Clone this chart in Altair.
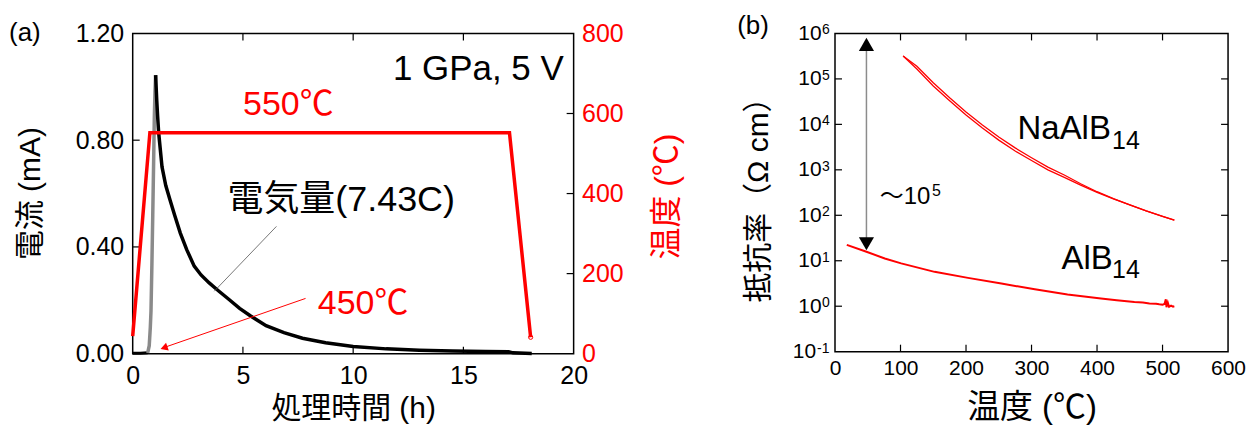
import altair as alt
import pandas as pd

FONT = "Liberation Sans, Noto Sans CJK JP, sans-serif"
RED = "#ff0000"

# ---------------- Panel (a) data ----------------
base_t = [0.0, 0.35, 0.68]
base_i = [0.002, 0.002, 0.003]
rise_t = [0.68, 0.75, 0.80, 0.83, 0.87, 0.91, 0.95, 0.98, 1.01, 1.04]
rise_i = [0.003, 0.03, 0.10, 0.16, 0.33, 0.52, 0.72, 0.88, 0.98, 1.044]
decay_t = [1.04, 1.09, 1.13, 1.18, 1.33, 1.50, 1.69, 1.90, 2.16, 2.45, 2.79, 3.10,
           3.47, 3.90, 4.37, 4.85, 5.35, 6.05, 6.86, 7.70, 8.75, 10.0, 11.5, 13.0,
           14.5, 16.0, 17.05, 17.25, 18.1]
decay_i = [1.044, 0.95, 0.89, 0.826, 0.70, 0.63, 0.577, 0.52, 0.452, 0.39, 0.328, 0.295,
           0.265, 0.235, 0.203, 0.17, 0.141, 0.105, 0.0785, 0.058, 0.041, 0.027, 0.018, 0.013,
           0.010, 0.008, 0.0075, 0.003, 0.001]
temp_t = [0.0, 0.78, 17.09, 18.05]
temp_v = [44, 552, 552, 41]

a_xlabels = [0, 5, 10, 15, 20]
a_ylabels = [0.0, 0.4, 0.8, 1.2]
a_tlabels = [0, 200, 400, 600, 800]
a_xticks = [5, 10, 15]
a_yticks = [0.4, 0.8]
a_tticks = [200, 400, 600]

# ---------------- Panel (b) data ----------------
na_T = [104, 125, 150, 175, 200, 225, 250, 275, 300, 325, 350, 375, 400, 425, 450, 475, 500, 518]
na_R1 = [3.2e5, 1.65e5, 7.0e4, 3.3e4, 1.6e4, 8.3e3, 4.5e3, 2.6e3, 1.6e3, 1.0e3, 680, 460,
         320, 230, 170, 125, 95, 78]
na_R2 = [3.2e5, 1.9e5, 8.2e4, 3.85e4, 1.87e4, 9.7e3, 5.25e3, 3.04e3, 1.85e3, 1.15e3, 770, 495,
         330, 232, 170, 125, 95, 78]
al_T = [18, 48, 76, 101, 152, 203, 254, 305, 355, 406, 430, 457, 470, 480, 490, 495, 500,
        503, 505, 506, 508, 510, 513, 516, 518]
al_R = [22.3, 15.8, 11.2, 8.75, 5.7, 4.2, 3.15, 2.36, 1.8, 1.47, 1.36, 1.24, 1.2, 1.15, 1.13,
        1.1, 1.08, 1.12, 1.42, 0.95, 1.2, 0.97, 1.03, 0.98, 1.0]

b_xlabels = [0, 100, 200, 300, 400, 500, 600]
b_ylabels = [1, 10, 100, 1e3, 1e4, 1e5, 1e6]
b_sup_vals = [1, 10, 100, 1e3, 1e4, 1e5, 1e6]
b_sup_text = ["0", "1", "2", "3", "4", "5", "6"]
b_low_val = [0.1]
b_low_base = ["10"]
b_low_sup = ["-1"]
b_xticks = [100, 200, 300, 400, 500]
b_yticks = [1, 10, 100, 1e3, 1e4, 1e5]

WA, HA = 442, 321
WB, HB = 394, 319
TL = 7  # inward tick length

XA = alt.Scale(domain=[0, 20], nice=False)
YA = alt.Scale(domain=[0, 1.2], nice=False)
TA = alt.Scale(domain=[0, 800], nice=False)
XB = alt.Scale(domain=[0, 600], nice=False)
YB = alt.Scale(type="log", domain=[0.1, 1e6], nice=False)


def df(**cols):
    return pd.DataFrame(cols)


# ---------------- axes ----------------
xaxis_a = alt.Axis(values=a_xlabels, ticks=False, domain=False, grid=False, labelFontSize=25,
                   labelPadding=10, labelFlush=False, labelOverlap=False, labelFont=FONT,
                   labelColor="black",
                   title="処理時間 (h)", titleFont=FONT, titleFontSize=30, titleFontWeight="normal",
                   titleColor="black", titleX=WA / 2, titleY=55,
                   titleAlign="center", titleBaseline="middle")
yaxis_a = alt.Axis(values=a_ylabels, format=".2f", ticks=False, domain=False, grid=False,
                   labelFontSize=25, labelPadding=9, labelFlush=False, labelOverlap=False,
                   labelFont=FONT, labelColor="black", title=None)
taxis_a = alt.Axis(values=a_tlabels, orient="right", ticks=False, domain=False, grid=False,
                   labelFontSize=25, labelPadding=8, labelFlush=False, labelOverlap=False,
                   labelFont=FONT, labelColor=RED, title=None)

xaxis_b = alt.Axis(values=b_xlabels, ticks=False, domain=False, grid=False, labelFontSize=21,
                   labelPadding=6, labelFlush=False, labelOverlap=False, labelFont=FONT,
                   labelColor="black",
                   title="温度 (℃)", titleFont=FONT, titleFontSize=33, titleFontWeight="normal",
                   titleColor="black", titleX=WB / 2, titleY=56,
                   titleAlign="center", titleBaseline="middle")
yaxis_b = alt.Axis(values=b_ylabels, labelExpr="'10'",
                   ticks=False, domain=False, grid=False,
                   labelFontSize=21, labelPadding=14, labelFlush=False, labelOverlap=False,
                   labelFont=FONT, labelColor="black", title=None)


def xa(field="t"):
    return alt.X(f"{field}:Q", scale=XA, axis=xaxis_a)


def ya(field="i"):
    return alt.Y(f"{field}:Q", scale=YA, axis=yaxis_a)


def ta(field="v"):
    return alt.Y(f"{field}:Q", scale=TA, axis=taxis_a)


def xb(field="T"):
    return alt.X(f"{field}:Q", scale=XB, axis=xaxis_b)


def yb(field="R"):
    return alt.Y(f"{field}:Q", scale=YB, axis=yaxis_b)


def ptext(label, x, y, size, color="black", angle=0, align="center", baseline="middle"):
    """Text placed in pixel space of a panel (panel tags, rotated titles)."""
    return alt.Chart(df(label=[label])).mark_text(
        font=FONT, fontSize=size, color=color, align=align, baseline=baseline,
        angle=angle).encode(x=alt.value(x), y=alt.value(y), text="label:N")


# ---------------- Panel (a) layers ----------------
cur_base = alt.Chart(df(t=base_t, i=base_i)).mark_line(color="black", strokeWidth=3).encode(
    x=xa(), y=ya())
cur_rise = alt.Chart(df(t=rise_t, i=rise_i)).mark_line(color="#8a8a8a", strokeWidth=3.5).encode(
    x=xa(), y=ya())
cur_decay = alt.Chart(df(t=decay_t, i=decay_i)).mark_line(color="black", strokeWidth=3.5).encode(
    x=xa(), y=ya())

tick_bot_a = alt.Chart(df(t=a_xticks)).mark_rule(color="black", strokeWidth=1.2).encode(
    x=xa(), y=alt.value(HA), y2=alt.value(HA - TL))
tick_top_a = alt.Chart(df(t=a_xticks)).mark_rule(color="black", strokeWidth=1.2).encode(
    x=xa(), y=alt.value(0), y2=alt.value(TL))
tick_left_a = alt.Chart(df(i=a_yticks)).mark_rule(color="black", strokeWidth=1.2).encode(
    y=ya(), x=alt.value(0), x2=alt.value(TL))

leader = alt.Chart(df(t=[6.52], i=[0.477], t2=[3.70], i2=[0.234])).mark_rule(
    color="#555555", strokeWidth=0.8).encode(x=xa(), y=ya(), x2="t2:Q", y2="i2:Q")
arrow_line = alt.Chart(df(t=[7.84], i=[0.207], t2=[1.35], i2=[0.021])).mark_rule(
    color=RED, strokeWidth=1).encode(x=xa(), y=ya(), x2="t2:Q", y2="i2:Q")
arrow_head = alt.Chart(df(t=[1.42], i=[0.022])).mark_point(
    shape="triangle-up", filled=True, color=RED, size=70, angle=251, opacity=1).encode(
    x=xa(), y=ya())


def text_a(t, i, label, color, size, align="center", baseline="alphabetic"):
    return alt.Chart(df(t=[t], i=[i], label=[label])).mark_text(
        font=FONT, fontSize=size, color=color, align=align, baseline=baseline).encode(
        x=xa(), y=ya(), text="label:N")


txt_cond = text_a(19.55, 1.024, "1 GPa, 5 V", "black", 35, align="right")
txt_550 = text_a(7.06, 0.893, "550℃", RED, 34)
txt_q = text_a(9.46, 0.535, "電気量(7.43C)", "black", 36)
txt_450 = text_a(10.45, 0.15, "450℃", RED, 34)
txt_pa = ptext("(a)", -124, 0, 26, align="left")
ytitle_a = ptext("電流 (mA)", -102, HA / 2, 30, angle=270)
ttitle_a = ptext("温度 (℃)", WA + 94, HA / 2 + 3, 32, color=RED, angle=270)

left_a = alt.layer(cur_base, cur_rise, cur_decay, tick_bot_a, tick_top_a, tick_left_a,
                   leader, arrow_line, arrow_head, txt_cond, txt_550, txt_q, txt_450, txt_pa,
                   ytitle_a, ttitle_a)

temp_line = alt.Chart(df(t=temp_t, v=temp_v)).mark_line(color=RED, strokeWidth=3.5).encode(
    x=xa(), y=ta())
temp_end = alt.Chart(df(t=[temp_t[-1]], v=[temp_v[-1]])).mark_point(
    shape="circle", color=RED, size=18, strokeWidth=1, opacity=1).encode(x=xa(), y=ta())
tick_right_a = alt.Chart(df(v=a_tticks)).mark_rule(color="black", strokeWidth=1.2).encode(
    y=ta(), x=alt.value(WA - TL), x2=alt.value(WA))
right_a = alt.layer(temp_line, temp_end, tick_right_a)

panel_a = alt.layer(left_a, right_a).resolve_scale(y="independent").properties(
    width=WA, height=HA)

# ---------------- Panel (b) layers ----------------
na1 = alt.Chart(df(T=na_T, R=na_R1)).mark_line(color=RED, strokeWidth=1.3).encode(
    x=xb(), y=yb())
na2 = alt.Chart(df(T=na_T, R=na_R2)).mark_line(color=RED, strokeWidth=1.3).encode(
    x=xb(), y=yb())
al = alt.Chart(df(T=al_T, R=al_R)).mark_line(color=RED, strokeWidth=2).encode(x=xb(), y=yb())

tick_bot_b = alt.Chart(df(T=b_xticks)).mark_rule(color="black", strokeWidth=1.2).encode(
    x=xb(), y=alt.value(HB), y2=alt.value(HB - TL))
tick_top_b = alt.Chart(df(T=b_xticks)).mark_rule(color="black", strokeWidth=1.2).encode(
    x=xb(), y=alt.value(0), y2=alt.value(TL))
tick_left_b = alt.Chart(df(R=b_yticks)).mark_rule(color="black", strokeWidth=1.2).encode(
    y=yb(), x=alt.value(0), x2=alt.value(TL))
tick_right_b = alt.Chart(df(R=b_yticks)).mark_rule(color="black", strokeWidth=1.2).encode(
    y=yb(), x=alt.value(WB - TL), x2=alt.value(WB))

sup_b = alt.Chart(df(R=b_sup_vals, s=b_sup_text)).mark_text(
    font=FONT, fontSize=14, color="black", align="left", baseline="alphabetic", dy=1).encode(
    x=alt.value(-13), y=yb(), text="s:N")
low_base_b = alt.Chart(df(R=b_low_val, s=b_low_base)).mark_text(
    font=FONT, fontSize=21, color="black", align="right", baseline="middle").encode(
    x=alt.value(-19), y=yb(), text="s:N")
low_sup_b = alt.Chart(df(R=b_low_val, s=b_low_sup)).mark_text(
    font=FONT, fontSize=14, color="black", align="left", baseline="alphabetic", dy=1).encode(
    x=alt.value(-18), y=yb(), text="s:N")

darrow = alt.Chart(df(T=[48], R=[5.0e5], R2=[30])).mark_rule(
    color="#8c8c8c", strokeWidth=1.5).encode(x=xb(), y=yb(), y2="R2:Q")
head_up = alt.Chart(df(T=[48], R=[5.75e5])).mark_point(
    shape="triangle-up", filled=True, color="black", size=230, opacity=1).encode(x=xb(), y=yb())
head_dn = alt.Chart(df(T=[48], R=[23.7])).mark_point(
    shape="triangle-down", filled=True, color="black", size=230, opacity=1).encode(x=xb(), y=yb())


def text_b(T, R, label, size, align="left", baseline="alphabetic"):
    return alt.Chart(df(T=[T], R=[R], label=[label])).mark_text(
        font=FONT, fontSize=size, color="black", align=align, baseline=baseline).encode(
        x=xb(), y=yb(), text="label:N")


t_na = text_b(278.7, 4.72e3, "NaAlB", 33)
t_na14 = text_b(423, 2.85e3, "14", 25)
t_al = text_b(345.7, 6.62, "AlB", 33)
t_al14 = text_b(423, 4.2, "14", 25)
t_ord = text_b(68.5, 177, "～10", 24)
t_ord5 = text_b(148, 260, "5", 16)
txt_pb = ptext("(b)", -98, -7, 26, align="left")
ytitle_b = ptext("抵抗率（Ω cm）", -76, HB / 2, 30, angle=270)

panel_b = alt.layer(na1, na2, al, tick_bot_b, tick_top_b, tick_left_b, tick_right_b,
                    sup_b, low_base_b, low_sup_b, darrow, head_up, head_dn, t_na, t_na14,
                    t_al, t_al14, t_ord, t_ord5, txt_pb, ytitle_b).properties(
    width=WB, height=HB)

chart = alt.hconcat(panel_a, panel_b, spacing=262, bounds="flush").properties(
    padding={"left": 0, "top": 4, "right": 2, "bottom": 0},
    background="white",
).configure_view(stroke="black", strokeWidth=1.5)

chart.save("out.html", embed_options={"renderer": "svg", "actions": False})
